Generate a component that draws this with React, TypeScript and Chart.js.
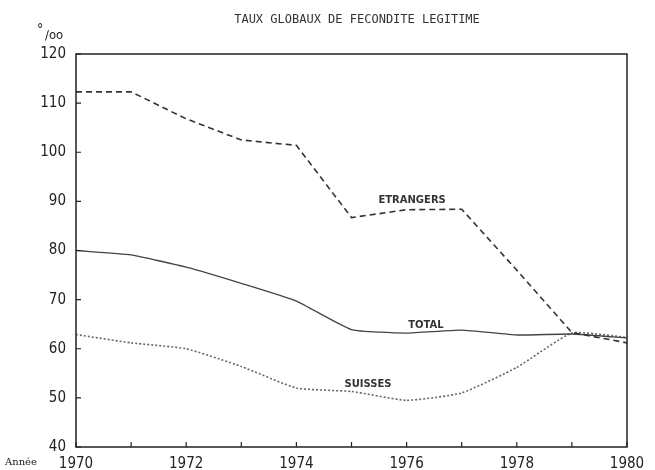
import React, { useEffect, useRef } from "react";
import { Chart, registerables } from "chart.js";

Chart.register(...registerables);

const years = [1970, 1971, 1972, 1973, 1974, 1975, 1976, 1977, 1978, 1979, 1980];
const etrangers = [112.3, 112.3, 106.8, 102.5, 101.4, 86.7, 88.3, 88.4, 76.0, 63.3, 61.2];
const total = [80.0, 79.1, 76.6, 73.3, 69.7, 63.9, 63.2, 63.8, 62.8, 63.0, 62.2];
const suisses = [62.9, 61.2, 60.0, 56.4, 52.0, 51.3, 49.5, 51.0, 56.2, 63.2, 62.3];
const yTicks = [40, 50, 60, 70, 80, 90, 100, 110, 120];
const xLabelYears = [1970, 1972, 1974, 1976, 1978, 1980];

const seriesNames = ["ETRANGERS", "TOTAL", "SUISSES"];
const labelAnchors = [
  { x: 1976.1, y: 90.2 },
  { x: 1976.35, y: 64.8 },
  { x: 1975.3, y: 52.7 },
];

const TITLE = "TAUX GLOBAUX DE FECONDITE LEGITIME";
const FONT = "'Liberation Sans Narrow', 'DejaVu Sans Condensed', 'Liberation Sans', sans-serif";

const decorPlugin = {
  id: "decor",
  afterDraw(chart: any) {
    const { ctx, chartArea, scales } = chart;
    const xs = scales.x;
    const ys = scales.y;
    ctx.save();
    ctx.strokeStyle = "#222";
    ctx.lineWidth = 1.5;
    ctx.strokeRect(chartArea.left, chartArea.top, chartArea.right - chartArea.left, chartArea.bottom - chartArea.top);
    ctx.lineWidth = 1.2;
    ctx.beginPath();
    for (const yr of years) {
      const px = xs.getPixelForValue(yr);
      ctx.moveTo(px, chartArea.bottom);
      ctx.lineTo(px, chartArea.bottom - 5);
    }
    for (const v of yTicks) {
      const py = ys.getPixelForValue(v);
      ctx.moveTo(chartArea.left, py);
      ctx.lineTo(chartArea.left + 5, py);
    }
    ctx.stroke();
    ctx.fillStyle = "#333";
    ctx.textAlign = "center";
    ctx.textBaseline = "middle";
    ctx.font = "12px 'DejaVu Sans Mono', monospace";
    ctx.fillText(TITLE, 357, 20);
    ctx.fillStyle = "#222";
    ctx.textAlign = "left";
    ctx.font = `14px ${FONT}`;
    ctx.fillText("°", 37, 30);
    ctx.font = `13px ${FONT}`;
    ctx.fillText("/oo", 45, 36);
    ctx.font = "10px 'DejaVu Serif', serif";
    ctx.fillText("Année", 5, 462);
    ctx.textAlign = "center";
    ctx.font = `bold 10px 'DejaVu Sans', sans-serif`;
    ctx.fillStyle = "#333";
    seriesNames.forEach((n, i) => {
      const a = labelAnchors[i];
      ctx.fillText(n, xs.getPixelForValue(a.x), ys.getPixelForValue(a.y));
    });
    ctx.restore();
  },
};

export default function App() {
  const ref = useRef<HTMLCanvasElement | null>(null);
  useEffect(() => {
    document.body.style.margin = "0";
    const mk = (arr: number[]) => years.map((y, i) => ({ x: y, y: arr[i] }));
    const chart = new Chart(ref.current as HTMLCanvasElement, {
      type: "line",
      data: {
        datasets: [
          { label: "ETRANGERS", data: mk(etrangers), borderColor: "#333", borderWidth: 1.6, borderDash: [6, 4], pointRadius: 0, tension: 0 },
          { label: "TOTAL", data: mk(total), borderColor: "#444", borderWidth: 1.3, pointRadius: 0, tension: 0.15 },
          { label: "SUISSES", data: mk(suisses), borderColor: "#666", borderWidth: 1.6, borderDash: [2, 2], pointRadius: 0, tension: 0.15 },
        ],
      },
      options: {
        animation: false,
        responsive: false,
        maintainAspectRatio: false,
        layout: { padding: { top: 54, right: 28, left: 0, bottom: 0 } },
        plugins: { legend: { display: false }, tooltip: { enabled: false }, title: { display: false } },
        scales: {
          x: {
            type: "linear",
            min: 1970,
            max: 1980,
            afterBuildTicks: (s: any) => {
              s.ticks = xLabelYears.map((v) => ({ value: v }));
            },
            afterFit: (s: any) => {
              s.height = 23;
            },
            grid: { display: false, drawTicks: false },
            border: { display: false },
            ticks: {
              padding: 8,
              maxRotation: 0,
              autoSkip: false,
              color: "#222",
              font: { family: FONT, size: 15 },
              callback: (v: any) => String(v),
            },
          },
          y: {
            type: "linear",
            min: 40,
            max: 120,
            afterBuildTicks: (s: any) => {
              s.ticks = yTicks.map((v) => ({ value: v }));
            },
            afterFit: (s: any) => {
              s.width = 76;
            },
            grid: { display: false, drawTicks: false },
            border: { display: false },
            ticks: {
              padding: 10,
              color: "#222",
              font: { family: FONT, size: 15 },
              callback: (v: any) => String(v),
            },
          },
        },
      },
      plugins: [decorPlugin],
    } as any);
    return () => chart.destroy();
  }, []);
  return (
    <div style={{ width: 655, height: 470, background: "#fff" }}>
      <canvas ref={ref} width={655} height={470} style={{ display: "block" }} />
    </div>
  );
}
